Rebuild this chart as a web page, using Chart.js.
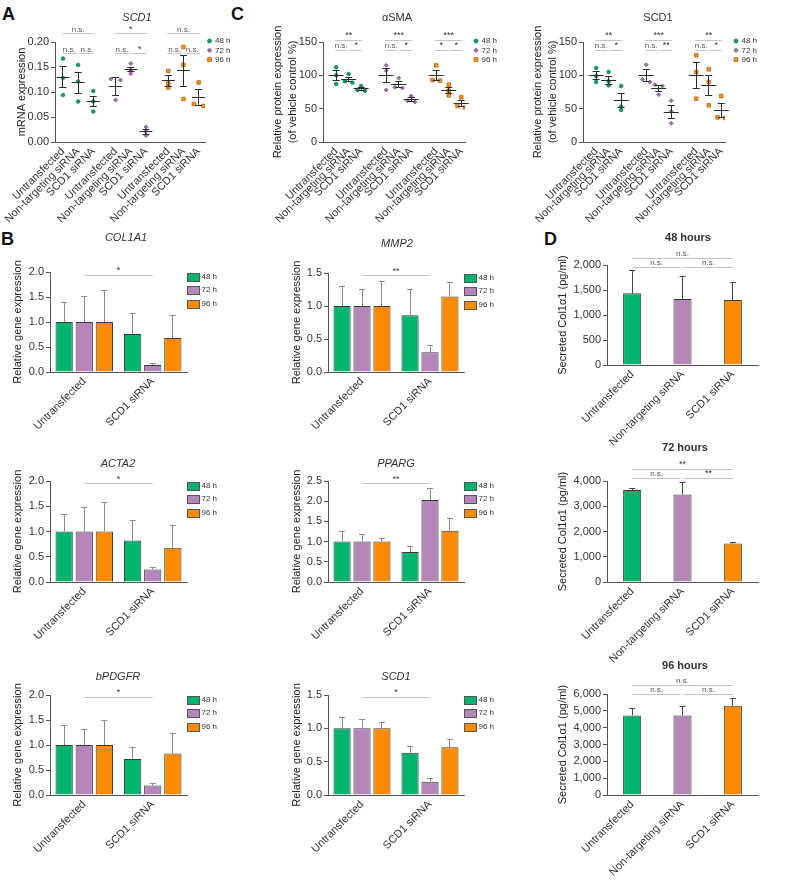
<!DOCTYPE html>
<html>
<head>
<meta charset="utf-8">
<title>SCD1 knockdown</title>
<script src="https://cdn.jsdelivr.net/npm/chart.js@4.4.1/dist/chart.umd.min.js"></script>
<style>
  body { margin: 0; width: 787px; height: 887px; position: relative; background: #fff; overflow: hidden;
         font-family: "Liberation Sans", Arial, Helvetica, sans-serif; }
  canvas { position: absolute; }
  .panel { position: absolute; font-size: 18px; line-height: 18px; font-weight: bold; color: #111; }
</style>
</head>
<body>
<div class="panel" style="left:2px; top:5px">A</div>
<div class="panel" style="left:231px; top:5px">C</div>
<div class="panel" style="left:1px; top:230px">B</div>
<div class="panel" style="left:544px; top:230px">D</div>
<script>
// Etiquetas
const conditions = ['Untransfected', 'Non-targeting siRNA', 'SCD1 siRNA'];
const qpcrGroups = ['Untransfected', 'SCD1 siRNA'];
const timepoints = ['48 h', '72 h', '96 h'];

// A - SCD1 mRNA, replicatas por condição (uma lista por tempo)
const mrnaScd1_48h = [[0.167, 0.128, 0.094], [0.154, 0.121, 0.081], [0.102, 0.081, 0.061]];
const mrnaScd1_72h = [[0.126, 0.124, 0.084], [0.157, 0.144, 0.137], [0.030, 0.021, 0.013]];
const mrnaScd1_96h = [[0.142, 0.117, 0.109], [0.190, 0.154, 0.086], [0.119, 0.076, 0.072]];
const mrnaScd1Mean = [0.130, 0.119, 0.081, 0.111, 0.146, 0.021, 0.123, 0.143, 0.089];
const mrnaScd1Sem = [0.021, 0.021, 0.011, 0.018, 0.004, 0.005, 0.011, 0.031, 0.016];
const mrnaScd1Sig = [['n.s.', 'n.s.', 'n.s.'], ['*', 'n.s.', '*'], ['n.s.', 'n.s.', 'n.s.']];

// C - proteína αSMA (% do controle)
const asma48h = [[112, 100, 87], [102, 91, 89], [84, 78, 77]];
const asma72h = [[115, 107, 78], [96, 82, 81], [69, 62, 60]];
const asma96h = [[115, 93, 92], [86, 77, 70], [67, 54, 52]];
const asmaMean = [100, 94, 80, 100, 86, 64, 100, 78, 58];
const asmaSem = [7.5, 3.5, 2, 10.5, 4.5, 2.5, 7.5, 4.5, 4.5];
const asmaSig = [['**', 'n.s.', '*'], ['***', 'n.s.', '*'], ['***', '*', '*']];

// C - proteína SCD1 (% do controle)
const scd1Prot48h = [[111, 99, 90], [105, 91, 85], [84, 53, 48]];
const scd1Prot72h = [[116, 94, 90], [86, 84, 71], [62, 46, 28]];
const scd1Prot96h = [[130, 105, 65], [109, 90, 55], [69, 37, 36]];
const scd1ProtMean = [100, 93, 62, 100, 80, 45, 100, 85, 48];
const scd1ProtSem = [6, 6, 11, 8.5, 4.5, 9.5, 19.5, 15.5, 10.5];
const scd1ProtSig = [['**', 'n.s.', '*'], ['***', 'n.s.', '**'], ['**', 'n.s.', '*']];

// B - expressão gênica relativa, [48 h, 72 h, 96 h] x [Untransfected, SCD1 siRNA]
const col1a1Mean = [[1.0, 0.76], [1.0, 0.14], [1.0, 0.68]];
const col1a1Err = [[0.39, 0.41], [0.51, 0.03], [0.63, 0.45]];
const mmp2Mean = [[1.0, 0.86], [1.0, 0.30], [1.0, 1.145]];
const mmp2Err = [[0.29, 0.39], [0.25, 0.10], [0.365, 0.205]];
const acta2Mean = [[1.0, 0.82], [1.0, 0.25], [1.0, 0.68]];
const acta2Err = [[0.34, 0.39], [0.48, 0.04], [0.58, 0.43]];
const ppargMean = [[1.0, 0.745], [1.0, 2.03], [1.0, 1.27]];
const ppargErr = [[0.24, 0.125], [0.18, 0.29], [0.08, 0.29]];
const pdgfrbMean = [[1.0, 0.72], [1.0, 0.19], [1.0, 0.83]];
const pdgfrbErr = [[0.40, 0.23], [0.32, 0.04], [0.50, 0.41]];
const scd1GeneMean = [[1.0, 0.635], [1.0, 0.20], [1.0, 0.715]];
const scd1GeneErr = [[0.165, 0.09], [0.135, 0.05], [0.085, 0.12]];

// D - Col1α1 secretado (pg/ml)
const col1Sec48 = [1433, 1320, 1300];
const col1Sec48Err = [454, 453, 347];
const col1Sec72 = [3642, 3470, 1523];
const col1Sec72Err = [80, 477, 40];
const col1Sec96 = [4728, 4728, 5305];
const col1Sec96Err = [398, 537, 417];
const col1Sig48 = ['n.s.', 'n.s.', 'n.s.'];
const col1Sig72 = ['**', 'n.s.', '**'];
const col1Sig96 = ['n.s.', 'n.s.', 'n.s.'];

// Estilos
const FONT = '"Liberation Sans", Arial, Helvetica, sans-serif';
const AXIS = '#555';
const barFill = ['#00b46e', '#b586b9', '#ff8c00'];
const BAR_EDGE = '#3a3a3a';
const dotFill = ['#00a06a', '#a070a8', '#f7931e'];
const dotEdge = ['#00875a', '#7d5586', '#b8620a'];
const dotStyle = ['circle', 'rectRot', 'rect'];
const dotSize = [1.8, 2, 2.5];

Chart.defaults.font.family = FONT;
Chart.defaults.font.size = 11;
Chart.defaults.color = '#333';

const specs = {};

const font = (size, style) => (style || '') + ' ' + size + 'px ' + FONT;
const thousands = (v) => String(v).replace(/\B(?=(\d{3})+(?!\d))/g, ',');

function seg(ctx, x0, y0, x1, y1) {
    if (y0 === y1) { y0 = y1 = Math.round(y0 - 0.5) + 0.5; }
    if (x0 === x1) { x0 = x1 = Math.round(x0 - 0.5) + 0.5; }
    ctx.beginPath();
    ctx.moveTo(x0, y0);
    ctx.lineTo(x1, y1);
    ctx.stroke();
}

function marker(ctx, style, x, y, r, fill, edge) {
    ctx.beginPath();
    if (style === 'circle') {
        ctx.arc(x, y, r, 0, Math.PI * 2);
    } else if (style === 'rectRot') {
        ctx.moveTo(x, y - r); ctx.lineTo(x + r, y); ctx.lineTo(x, y + r); ctx.lineTo(x - r, y); ctx.closePath();
    } else {
        const h = r * Math.SQRT1_2;
        ctx.rect(x - h, y - h, 2 * h, 2 * h);
    }
    ctx.fillStyle = fill;
    ctx.fill();
    ctx.lineWidth = 0.8;
    ctx.strokeStyle = edge;
    ctx.stroke();
}

const makeCanvas = (id, box) => {
    const c = document.createElement('canvas');
    c.id = id;
    c.width = box.r - box.l;
    c.height = box.b - box.t;
    c.style.left = box.l + 'px';
    c.style.top = box.t + 'px';
    document.body.appendChild(c);
    return c;
};

// Plugin: média/SEM, barras de erro, títulos, significância e legenda
const overlay = {
    id: 'overlay',
    afterDatasetsDraw(chart) {
        const s = specs[chart.canvas.id];
        const ctx = chart.ctx, xs = chart.scales.x, ys = chart.scales.y;
        ctx.save();
        ctx.lineWidth = 1;
        if (s.kind === 'dots') {
            ctx.strokeStyle = '#2b2b2b';
            for (let g = 0; g < 3; g++) {
                for (let c = 0; c < 3; c++) {
                    const i = g * 3 + c;
                    const x = xs.getPixelForValue(s.pos(g, c));
                    const m = ys.getPixelForValue(s.mean[i]);
                    const hi = ys.getPixelForValue(s.mean[i] + s.sem[i]);
                    const lo = ys.getPixelForValue(s.mean[i] - s.sem[i]);
                    seg(ctx, x - s.meanHalf, m, x + s.meanHalf, m);
                    seg(ctx, x, hi, x, lo);
                    seg(ctx, x - 3.5, hi, x + 3.5, hi);
                    seg(ctx, x - 3.5, lo, x + 3.5, lo);
                }
            }
        } else {
            ctx.strokeStyle = s.errColor;
            chart.data.datasets.forEach((ds, k) => {
                chart.getDatasetMeta(k).data.forEach((bar, i) => {
                    const top = ys.getPixelForValue(ds.data[i] + s.err[k][i]);
                    seg(ctx, bar.x, bar.y, bar.x, top);
                    seg(ctx, bar.x - 3, top, bar.x + 3, top);
                });
            });
        }
        ctx.restore();
    },
    afterDraw(chart) {
        const s = specs[chart.canvas.id];
        const ctx = chart.ctx, xs = chart.scales.x, a = chart.chartArea;
        ctx.save();

        // título
        ctx.fillStyle = '#333';
        ctx.textAlign = 'center';
        ctx.textBaseline = 'middle';
        ctx.font = font(11, s.titleStyle);
        ctx.fillText(s.title, s.titleX - s.canvas.l, s.titleY - s.canvas.t);

        // barras de significância
        ctx.lineWidth = 1;
        ctx.textBaseline = 'alphabetic';
        s.brackets.forEach(br => {
            const y = a.top + br.dy;
            const x0 = xs.getPixelForValue(br.a) + br.ta;
            const x1 = xs.getPixelForValue(br.b) + br.tb;
            ctx.strokeStyle = '#c4c4c4';
            seg(ctx, x0, y, x1, y);
            const ns = br.label === 'n.s.';
            ctx.fillStyle = ns ? '#555' : '#333';
            ctx.font = font(ns ? 8 : 9);
            ctx.fillText(br.label, (x0 + x1) / 2, Math.round(y) - 2);
        });

        // legenda
        ctx.textAlign = 'left';
        ctx.textBaseline = 'middle';
        ctx.font = font(8);
        if (s.legend === 'dots') {
            [-1, 8.3, 17.6].forEach((dy, k) => {
                const x = a.right + s.legendDx, y = a.top + dy;
                marker(ctx, dotStyle[k], x, y, dotSize[k] + 0.2, dotFill[k], dotEdge[k]);
                ctx.fillStyle = '#333';
                ctx.fillText(timepoints[k], x + 5.5, y);
            });
        } else if (s.legend === 'boxes') {
            [4.5, 18, 31.5].forEach((dy, k) => {
                const x = Math.round(a.right) + 0.5, y = Math.round(a.top + dy - 4) + 0.5;
                ctx.fillStyle = barFill[k];
                ctx.fillRect(x, y, 12, 8);
                ctx.strokeStyle = '#555';
                ctx.strokeRect(x, y, 12, 8);
                ctx.fillStyle = '#333';
                ctx.fillText(timepoints[k], x + 14, a.top + dy);
            });
        }
        ctx.restore();
    }
};
Chart.register(overlay);

function baseOptions(s, scales) {
    return {
        responsive: false,
        animation: false,
        devicePixelRatio: 1,
        layout: { padding: { left: 0, top: s.area.t - s.canvas.t, right: s.canvas.r - s.area.r, bottom: 0 } },
        plugins: { legend: { display: false }, tooltip: { enabled: false } },
        scales
    };
}

function yAxis(s) {
    const lh = 11 * 1.35;
    return {
        min: 0,
        max: s.yMax,
        bounds: 'data',
        ticks: { stepSize: s.yStep, padding: 2, color: '#333', callback: s.fmt },
        grid: { drawOnChartArea: false, drawTicks: true, tickLength: 4, color: AXIS },
        border: { display: true, color: AXIS },
        title: {
            display: true, text: s.yTitle, color: '#222',
            font: { size: 11, lineHeight: 1.35 },
            padding: { top: s.yTitleX - s.canvas.l - lh / 2, bottom: 0 }
        },
        afterFit: (sc) => { sc.width = s.area.l - s.canvas.l; sc.paddingTop = 0; sc.paddingBottom = 0; }
    };
}

function xFit(s) {
    return (sc) => { sc.height = s.canvas.b - s.area.b; sc.paddingLeft = 0; sc.paddingRight = 0; };
}

// Gráfico de pontos com média ± SEM
function dotChart(id, s) {
    s.kind = 'dots';
    s.legend = 'dots';
    s.pos = (g, c) => g * s.groupStep + c * s.step;
    const tol = s.yMax * 0.03;
    const datasets = s.series.map((groups, g) => {
        const pts = [];
        groups.forEach((vals, c) => vals.forEach((v, r) => {
            let dx = 0;
            vals.forEach((w, q) => { if (q !== r && Math.abs(w - v) < tol) dx = q > r ? -0.3 : 0.3; });
            pts.push({ x: s.pos(g, c) + dx, y: v });
        }));
        return {
            label: timepoints[g], data: pts,
            pointStyle: dotStyle[g], pointRadius: dotSize[g],
            backgroundColor: dotFill[g], borderColor: dotEdge[g], borderWidth: 0.8
        };
    });
    const tickPos = [];
    for (let g = 0; g < 3; g++) for (let c = 0; c < 3; c++) tickPos.push(s.pos(g, c));

    s.brackets = [];
    s.sig.forEach((labels, g) => {
        s.brackets.push({ a: s.pos(g, 0), b: s.pos(g, 2), ta: -1, tb: 1, dy: s.sigDy[0], label: labels[0] });
        s.brackets.push({ a: s.pos(g, 0), b: s.pos(g, 1), ta: -1, tb: -1.5, dy: s.sigDy[1], label: labels[1] });
        s.brackets.push({ a: s.pos(g, 1), b: s.pos(g, 2), ta: 1.5, tb: 1, dy: s.sigDy[1], label: labels[2] });
    });
    specs[id] = s;

    new Chart(makeCanvas(id, s.canvas), {
        type: 'scatter',
        data: { datasets },
        options: baseOptions(s, {
            x: {
                type: 'linear', min: s.xMin, max: s.xMax, bounds: 'data',
                afterBuildTicks: (sc) => { sc.ticks = tickPos.map(v => ({ value: v })); },
                ticks: { autoSkip: false, minRotation: 45, maxRotation: 45, padding: 3, color: '#333',
                         callback: (v, i) => conditions[i % 3] },
                grid: { display: false, drawTicks: false },
                border: { display: true, color: AXIS },
                afterFit: xFit(s)
            },
            y: yAxis(s)
        })
    });
}

// Gráfico de barras com erro (agrupado em B, simples em D)
function barChart(id, s) {
    s.kind = 'bars';
    const single = !Array.isArray(s.means[0]);
    const datasets = single
        ? [{ data: s.means, backgroundColor: barFill, borderColor: BAR_EDGE, borderWidth: 1,
             categoryPercentage: 1, barPercentage: 0.36 }]
        : s.means.map((m, k) => ({
            label: timepoints[k], data: m, backgroundColor: barFill[k], borderColor: BAR_EDGE,
            borderWidth: 1, categoryPercentage: 0.88, barPercentage: 0.86
        }));
    s.err = single ? [s.errs] : s.errs;
    if (single) {
        s.brackets = [
            { a: 0, b: 2, ta: 0, tb: 0, dy: s.sigDy[0], label: s.sig[0] },
            { a: 0, b: 1, ta: 0, tb: -1.5, dy: s.sigDy[1], label: s.sig[1] },
            { a: 1, b: 2, ta: 1.5, tb: 0, dy: s.sigDy[1], label: s.sig[2] }
        ];
    } else {
        s.brackets = [{ a: 0, b: 1, ta: 0, tb: 0, dy: s.sigDy[0], label: s.sig[0] }];
    }
    specs[id] = s;

    new Chart(makeCanvas(id, s.canvas), {
        type: 'bar',
        data: { labels: s.labels, datasets },
        options: baseOptions(s, {
            x: {
                ticks: { autoSkip: false, minRotation: 45, maxRotation: 45, padding: 3, color: '#333' },
                grid: { display: false, drawTicks: false },
                border: { display: true, color: AXIS },
                afterFit: xFit(s)
            },
            y: yAxis(s)
        })
    });
}

// Painel A
dotChart('chartA', {
    canvas: { l: 0, t: 0, r: 245, b: 230 }, area: { l: 55, t: 42, r: 205, b: 142 },
    yTitleX: 22, yTitle: 'mRNA expression', yMax: 0.2, yStep: 0.05, fmt: v => v.toFixed(2),
    title: 'SCD1', titleStyle: 'italic', titleX: 137, titleY: 18,
    series: [mrnaScd1_48h, mrnaScd1_72h, mrnaScd1_96h], mean: mrnaScd1Mean, sem: mrnaScd1Sem, sig: mrnaScd1Sig,
    groupStep: 3.3, step: 0.95, xMin: -0.5, xMax: 8.9, meanHalf: 6.5, sigDy: [-8.5, 11.5], legendDx: 4.5
});

// Painel C
const proteinTitle = ['Relative protein expression', '(of vehicle control %)'];
dotChart('chartC1', {
    canvas: { l: 262, t: 0, r: 515, b: 230 }, area: { l: 323, t: 42, r: 465, b: 142 },
    yTitleX: 278, yTitle: proteinTitle, yMax: 150, yStep: 50, fmt: v => v,
    title: 'αSMA', titleStyle: '', titleX: 397, titleY: 18,
    series: [asma48h, asma72h, asma96h], mean: asmaMean, sem: asmaSem, sig: asmaSig,
    groupStep: 4, step: 1, xMin: -1.05, xMax: 10.3, meanHalf: 7.5, sigDy: [-2, 8.3], legendDx: 11
});
dotChart('chartC2', {
    canvas: { l: 522, t: 0, r: 787, b: 230 }, area: { l: 583, t: 42, r: 725, b: 142 },
    yTitleX: 538, yTitle: proteinTitle, yMax: 150, yStep: 50, fmt: v => v,
    title: 'SCD1', titleStyle: '', titleX: 658, titleY: 18,
    series: [scd1Prot48h, scd1Prot72h, scd1Prot96h], mean: scd1ProtMean, sem: scd1ProtSem, sig: scd1ProtSig,
    groupStep: 4, step: 1, xMin: -1.05, xMax: 10.3, meanHalf: 7.5, sigDy: [-2, 8.3], legendDx: 11
});

// Painel B
const geneTitle = 'Relative gene expression';
const fmt1 = v => v.toFixed(1);
const bSpecs = [
    ['chartB1', { l: 0, t: 228, r: 240, b: 450 }, { l: 50, t: 272, r: 187, b: 372 }, 17.5, 2, 'COL1A1', 126, 238, col1a1Mean, col1a1Err, '*', 3],
    ['chartB2', { l: 280, t: 228, r: 520, b: 450 }, { l: 328, t: 273, r: 464, b: 372 }, 296.5, 1.5, 'MMP2', 397, 244, mmp2Mean, mmp2Err, '**', 2.5],
    ['chartB3', { l: 0, t: 450, r: 240, b: 665 }, { l: 50, t: 481, r: 187, b: 582 }, 18, 2, 'ACTA2', 118, 464, acta2Mean, acta2Err, '*', 2.7],
    ['chartB4', { l: 280, t: 450, r: 520, b: 665 }, { l: 328, t: 481, r: 464, b: 582 }, 296.5, 2.5, 'PPARG', 396, 464, ppargMean, ppargErr, '**', 2.7],
    ['chartB5', { l: 0, t: 665, r: 240, b: 887 }, { l: 50, t: 695, r: 187, b: 795 }, 18, 2, 'bPDGFR', 118, 677, pdgfrbMean, pdgfrbErr, '*', 2],
    ['chartB6', { l: 280, t: 665, r: 520, b: 887 }, { l: 328, t: 695, r: 464, b: 795 }, 296.5, 1.5, 'SCD1', 396, 677, scd1GeneMean, scd1GeneErr, '*', 2.3]
];
bSpecs.forEach(([id, canvas, area, yTitleX, yMax, title, titleX, titleY, means, errs, sig, dy]) => {
    barChart(id, {
        canvas, area, yTitleX, yTitle: geneTitle, yMax, yStep: 0.5, fmt: fmt1,
        title, titleStyle: 'italic', titleX, titleY, labels: qpcrGroups,
        means, errs, errColor: '#8a8a8a', sig: [sig], sigDy: [dy], legend: 'boxes'
    });
});

// Painel D
const secTitle = 'Secreted Col1α1 (pg/ml)';
barChart('chartD1', {
    canvas: { l: 545, t: 228, r: 787, b: 448 }, area: { l: 607, t: 265, r: 758, b: 365 },
    yTitleX: 563, yTitle: secTitle, yMax: 2000, yStep: 500, fmt: thousands,
    title: '48 hours', titleStyle: 'bold', titleX: 688, titleY: 238, labels: conditions,
    means: col1Sec48, errs: col1Sec48Err, errColor: '#444', sig: col1Sig48, sigDy: [-7, 2], legend: 'none'
});
barChart('chartD2', {
    canvas: { l: 545, t: 436, r: 787, b: 662 }, area: { l: 607, t: 481, r: 758, b: 582 },
    yTitleX: 563, yTitle: secTitle, yMax: 4000, yStep: 1000, fmt: thousands,
    title: '72 hours', titleStyle: 'bold', titleX: 685, titleY: 448, labels: conditions,
    means: col1Sec72, errs: col1Sec72Err, errColor: '#444', sig: col1Sig72, sigDy: [-12, -3], legend: 'none'
});
barChart('chartD3', {
    canvas: { l: 545, t: 655, r: 787, b: 887 }, area: { l: 607, t: 694, r: 758, b: 795 },
    yTitleX: 563, yTitle: secTitle, yMax: 6000, yStep: 1000, fmt: thousands,
    title: '96 hours', titleStyle: 'bold', titleX: 685, titleY: 666, labels: conditions,
    means: col1Sec96, errs: col1Sec96Err, errColor: '#444', sig: col1Sig96, sigDy: [-9, 0], legend: 'none'
});
</script>
</body>
</html>
